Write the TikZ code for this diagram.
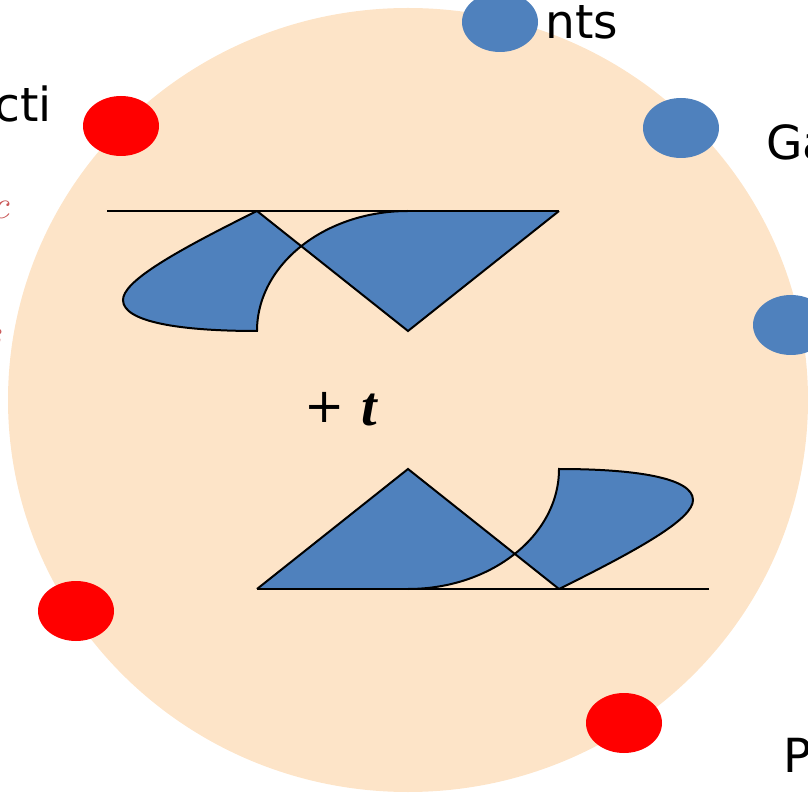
\documentclass[tikz,border=0pt]{standalone}
\usepackage{fontspec}
\setmainfont{DejaVu Sans}
\newfontfamily\tfont{Liberation Serif}
\newfontfamily\lmfont{Latin Modern Roman}
\usetikzlibrary{shapes.geometric}
\definecolor{peach}{RGB}{253,228,200}
\definecolor{oblue}{RGB}{79,129,189}
\definecolor{fragred}{RGB}{200,85,85}
\tikzset{
  dotshape/.style={ellipse, minimum width=76pt, minimum height=60pt, inner sep=0pt, draw=none},
  bluedot/.style={dotshape, fill=oblue},
  reddot/.style={dotshape, fill=red},
  lbl/.style={font=\fontsize{47}{56}\selectfont, inner sep=0pt, text=black},
  frag/.style={inner sep=0pt, anchor=base east, text=fragred, font=\lmfont\itshape\fontsize{40}{48}\selectfont},
  edge/.style={line width=2pt, line join=miter},
  axisline/.style={draw=black, line width=2.4pt},
}
\begin{document}
\begin{tikzpicture}[x=1pt,y=1pt]
\useasboundingbox (0,0) rectangle (808,793);
\clip (0,0) rectangle (808,793);
% background disc
\fill[peach] (408,393) ellipse [x radius=400pt, y radius=392pt];
% dots
\node[bluedot] (b1) at (500,771) {};
\node[bluedot] (b2) at (681,665) {};
\node[bluedot] (b3) at (791,468) {};
\node[reddot] (r1) at (121,667) {};
\node[reddot] (r2) at (76,182) {};
\node[reddot] (r3) at (624,70) {};
% labels (cut by frame)
\node[lbl, anchor=base west] (tnts) at (545,754) {nts};
\node[lbl, anchor=base east] (tcti) at (52,671) {cti};
\node[lbl, anchor=base west] (tga) at (766,633) {Ga};
\node[lbl, anchor=base west] (tp) at (783,21) {P};
\node[frag] (fc) at (10,574) {c};
\node[frag] (fs) at (2,446) {s};
% top wedges
\coordinate (tl) at (107,582);
\coordinate (tr) at (559,582);
\fill[oblue] (257,582) -- (408,462) -- (559,582) -- (408,582)
  arc[start angle=90, end angle=180, x radius=151pt, y radius=120pt]
  .. controls (180,462) and (123,471) .. (123,493)
  .. controls (123,511) and (170,539) .. (257,582) -- cycle;
\draw[edge] (257,582) -- (408,462) -- (559,582);
\draw[edge] (408,582)
  arc[start angle=90, end angle=180, x radius=151pt, y radius=120pt]
  .. controls (180,462) and (123,471) .. (123,493)
  .. controls (123,511) and (170,539) .. (257,582);
\draw[axisline] (tl) -- (tr);
% bottom wedges (point reflection)
\begin{scope}[rotate around={180:(408,393)}]
\coordinate (bl) at (107,582);
\coordinate (br) at (559,582);
\fill[oblue] (257,582) -- (408,462) -- (559,582) -- (408,582)
  arc[start angle=90, end angle=180, x radius=151pt, y radius=120pt]
  .. controls (180,462) and (123,471) .. (123,493)
  .. controls (123,511) and (170,539) .. (257,582) -- cycle;
\draw[edge] (257,582) -- (408,462) -- (559,582);
\draw[edge] (408,582)
  arc[start angle=90, end angle=180, x radius=151pt, y radius=120pt]
  .. controls (180,462) and (123,471) .. (123,493)
  .. controls (123,511) and (170,539) .. (257,582);
\draw[axisline] (bl) -- (br);
\end{scope}
% + t
\node[inner sep=0pt, font=\fontsize{48}{56}\selectfont] (plus) at (325,386) {+};
\node[inner sep=0pt, font=\tfont\bfseries\itshape\fontsize{56}{64}\selectfont] (tt) at (369,383) {t};
\end{tikzpicture}
\end{document}
